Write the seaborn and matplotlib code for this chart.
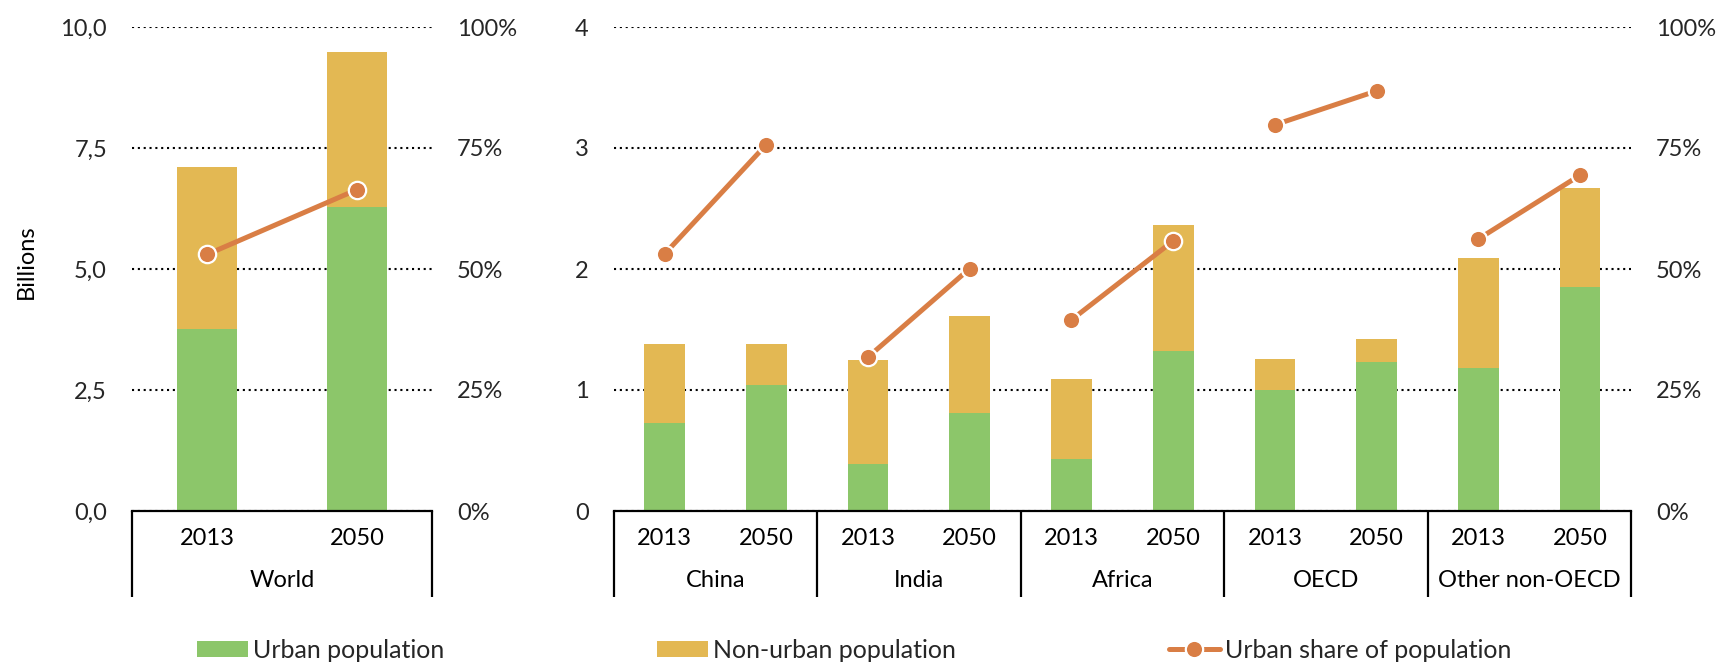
import numpy as np
import pandas as pd
import matplotlib
matplotlib.use("Agg")
import matplotlib.pyplot as plt
import matplotlib.transforms as mtransforms
from matplotlib.patches import Patch
from matplotlib.lines import Line2D
import seaborn as sns

# ---------------- data ----------------
years = ["2013", "2050"]
world_groups = ["World"]
world_urban = [3.77, 6.28]
world_total = [7.10, 9.48]
world_share = [0.530, 0.664]

region_groups = ["China", "India", "Africa", "OECD", "Other non-OECD"]
region_urban = [0.73, 1.04, 0.39, 0.81, 0.43, 1.32, 1.00, 1.23, 1.18, 1.85]
region_total = [1.38, 1.38, 1.25, 1.61, 1.09, 2.36, 1.26, 1.42, 2.09, 2.67]
region_share = [0.531, 0.757, 0.318, 0.501, 0.395, 0.558, 0.798, 0.868, 0.562, 0.694]

world_ticks = [0, 2.5, 5, 7.5, 10]
world_ticklabels = ["0,0", "2,5", "5,0", "7,5", "10,0"]
region_ticks = [0, 1, 2, 3, 4]
region_ticklabels = ["0", "1", "2", "3", "4"]
share_ticks = [0, 0.25, 0.5, 0.75, 1.0]
share_ticklabels = ["0%", "25%", "50%", "75%", "100%"]

legend_labels = ["Urban population", "Non-urban population", "Urban share of population"]
y_label = "Billions"

# ---------------- style ----------------
GREEN = "#8CC66A"
YELLOW = "#E3B853"
ORANGE = "#D97E45"
FS = 17
LFS = 18

sns.set_theme(style="white")
plt.rcParams["font.family"] = ["Lato", "DejaVu Sans"]

W, H = 1719, 662
fig = plt.figure(figsize=(W / 100, H / 100), dpi=100)


def make_df(groups, urban, total, share):
    rows = []
    for gi, g in enumerate(groups):
        for yi, y in enumerate(years):
            i = gi * len(years) + yi
            rows.append(dict(group=g, year=y, key=f"{g} {y}", pos=i,
                             urban=urban[i], total=total[i], share=share[i]))
    return pd.DataFrame(rows)


def panel(rect, groups, urban, total, share, ticks, ticklabels, ymax):
    df = make_df(groups, urban, total, share)
    n = len(df)
    ax = fig.add_axes(rect)
    sns.barplot(data=df, x="key", y="total", color=YELLOW, saturation=1,
                width=0.4, errorbar=None, ax=ax, linewidth=0)
    sns.barplot(data=df, x="key", y="urban", color=GREEN, saturation=1,
                width=0.4, errorbar=None, ax=ax, linewidth=0)
    ax.set_xlim(-0.5, n - 0.5)
    ax.set_ylim(0, ymax)
    ax.set_yticks(ticks)
    ax.set_yticklabels(ticklabels, fontsize=FS)
    ax.set_xticks([])
    ax.set_xlabel("")
    ax.set_ylabel("")
    ax.tick_params(axis="y", length=0, pad=18)
    ax.set_axisbelow(True)
    ax.yaxis.grid(True, color="black", linestyle=(0, (1, 1.8)), linewidth=1.5)
    for s in ["top", "left", "right"]:
        ax.spines[s].set_visible(False)
    ax.spines["bottom"].set_color("black")
    ax.spines["bottom"].set_linewidth(1.6)

    # category labels
    tr = mtransforms.blended_transform_factory(ax.transData, ax.transAxes)
    for _, r in df.iterrows():
        ax.text(r["pos"], -0.056, r["year"], transform=tr, ha="center",
                va="center", fontsize=FS, color="black")
    box_bottom = -0.178
    for gi, g in enumerate(groups):
        sub = df[df["group"] == g]
        ax.text(sub["pos"].mean(), -0.143, g, transform=tr, ha="center",
                va="center", fontsize=FS, color="black")
    bounds = [k * len(years) - 0.5 for k in range(len(groups) + 1)]
    for b in bounds:
        ax.plot([b, b], [0, box_bottom], transform=tr, color="black",
                linewidth=1.6, clip_on=False, solid_capstyle="butt")

    # share line on secondary axis
    ax2 = fig.add_axes(rect)
    ax2.patch.set_visible(False)
    sns.lineplot(data=df, x="pos", y="share", units="group", estimator=None,
                 ax=ax2, color=ORANGE, linewidth=3.6, marker="o",
                 markersize=12.5, markeredgecolor="white", markeredgewidth=1.6,
                 legend=False, sort=True)
    ax2.set_xlim(-0.5, n - 0.5)
    ax2.set_ylim(0, 1)
    ax2.set_xticks([])
    ax2.set_xlabel("")
    ax2.set_ylabel("")
    ax2.yaxis.tick_right()
    ax2.set_yticks(share_ticks)
    ax2.set_yticklabels(share_ticklabels, fontsize=FS)
    ax2.tick_params(axis="y", length=0, pad=18)
    ax2.grid(False)
    for s in ax2.spines.values():
        s.set_visible(False)
    return ax, ax2


bottom = (H - 511) / H
height = 484 / H
panel([132 / W, bottom, 300 / W, height], world_groups, world_urban,
      world_total, world_share, world_ticks, world_ticklabels, 10)
panel([613.7 / W, bottom, (1631 - 613.7) / W, height], region_groups,
      region_urban, region_total, region_share, region_ticks,
      region_ticklabels, 4)

fig.text(26 / W, 1 - 262 / H, y_label, rotation=90, ha="center", va="center",
         fontsize=FS, color="black")

handles = [
    Patch(facecolor=GREEN, edgecolor="none"),
    Patch(facecolor=YELLOW, edgecolor="none"),
    Line2D([0], [0], color=ORANGE, linewidth=3.6, marker="o", markersize=12.5,
           markeredgecolor="white", markeredgewidth=1.6),
]
fig.legend(handles, legend_labels, loc="center", ncol=3,
           bbox_to_anchor=(854 / W, 1 - 650 / H), frameon=False,
           fontsize=LFS, handlelength=2.05, handleheight=0.6,
           handletextpad=0.2, columnspacing=8.5, borderaxespad=0,
           borderpad=0)

fig.savefig("out.png", dpi=100)
